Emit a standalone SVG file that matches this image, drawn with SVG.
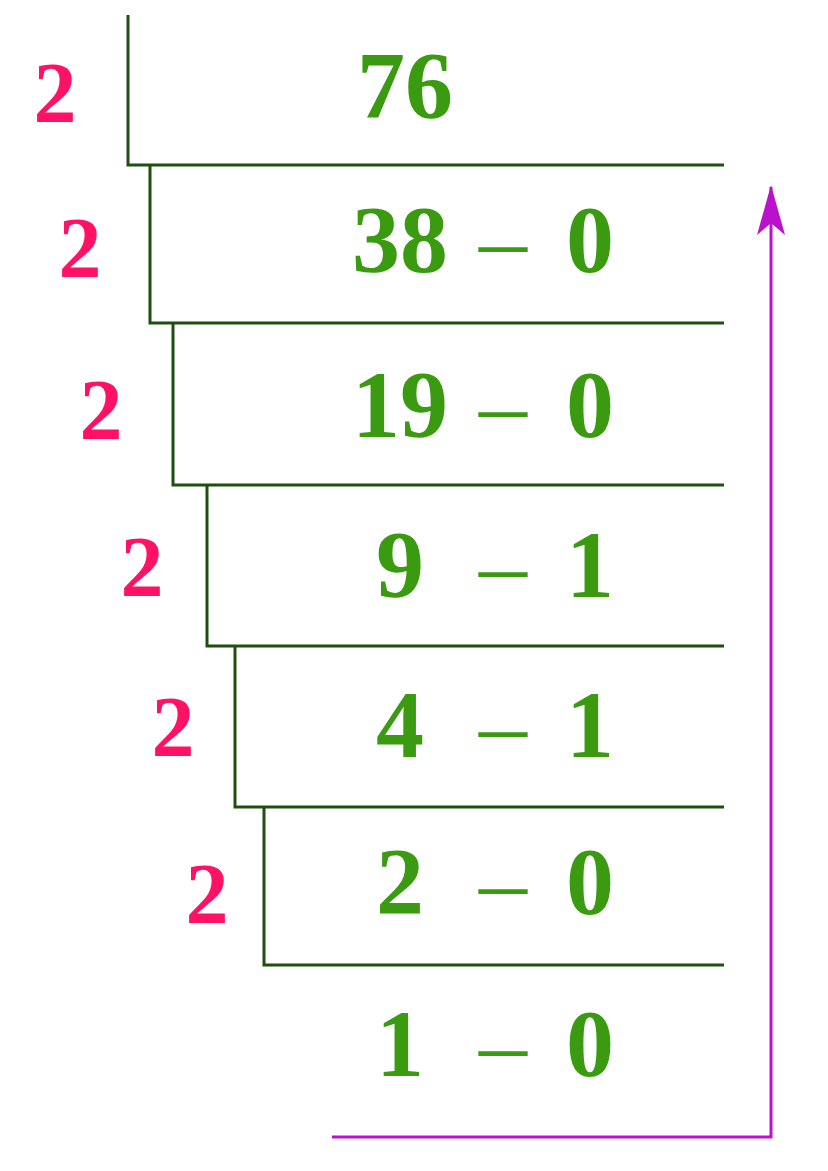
<svg xmlns="http://www.w3.org/2000/svg" width="828" height="1171" viewBox="0 0 828 1171">
<style>
.d{fill:#ff1166;font:bold 86px "Liberation Serif",serif;text-anchor:middle}
.g{fill:#3a9a10;font:bold 96px "Liberation Serif",serif;text-anchor:middle}
.m{fill:#3a9a10;font:normal 96px "Liberation Serif",serif;text-anchor:middle}
.l{stroke:#1f4f0f;stroke-width:3;fill:none}
</style>
<defs><marker id="a" markerWidth="52" markerHeight="30" refX="48" refY="15" orient="auto" markerUnits="userSpaceOnUse" viewBox="0 0 52 30"><path d="M50 15 L0 1 L12 15 L0 29 Z" fill="#bb11cc"/></marker></defs>
<rect width="828" height="1171" fill="#fff"/>
<g id="steps" class="l">
<path d="M128 15V165H724"/>
<path d="M150 165V323H724"/>
<path d="M173 323V485H724"/>
<path d="M207 485V646H724"/>
<path d="M235 646V807H724"/>
<path d="M264 807V965H724"/>
</g>
<g id="divisors">
<text class="d" x="55" y="122">2</text>
<text class="d" x="80" y="277">2</text>
<text class="d" x="101" y="439">2</text>
<text class="d" x="142" y="596">2</text>
<text class="d" x="173" y="756">2</text>
<text class="d" x="207" y="923">2</text>
</g>
<g id="values">
<text class="g" x="405" y="118">76</text>
<text class="g" x="400" y="272">38</text><text class="m" x="503" y="272">–</text><text class="g" x="590" y="272">0</text>
<text class="g" x="400" y="437">19</text><text class="m" x="503" y="437">–</text><text class="g" x="590" y="437">0</text>
<text class="g" x="400" y="597">9</text><text class="m" x="503" y="597">–</text><text class="g" x="590" y="597">1</text>
<text class="g" x="400" y="757">4</text><text class="m" x="503" y="757">–</text><text class="g" x="590" y="757">1</text>
<text class="g" x="400" y="914">2</text><text class="m" x="503" y="914">–</text><text class="g" x="590" y="914">0</text>
<text class="g" x="400" y="1076">1</text><text class="m" x="503" y="1076">–</text><text class="g" x="590" y="1076">0</text>
</g>
<g id="connectors">
<path d="M332 1137H771V187" stroke="#bb11cc" stroke-width="3" fill="none" marker-end="url(#a)"/>
</g>
</svg>
